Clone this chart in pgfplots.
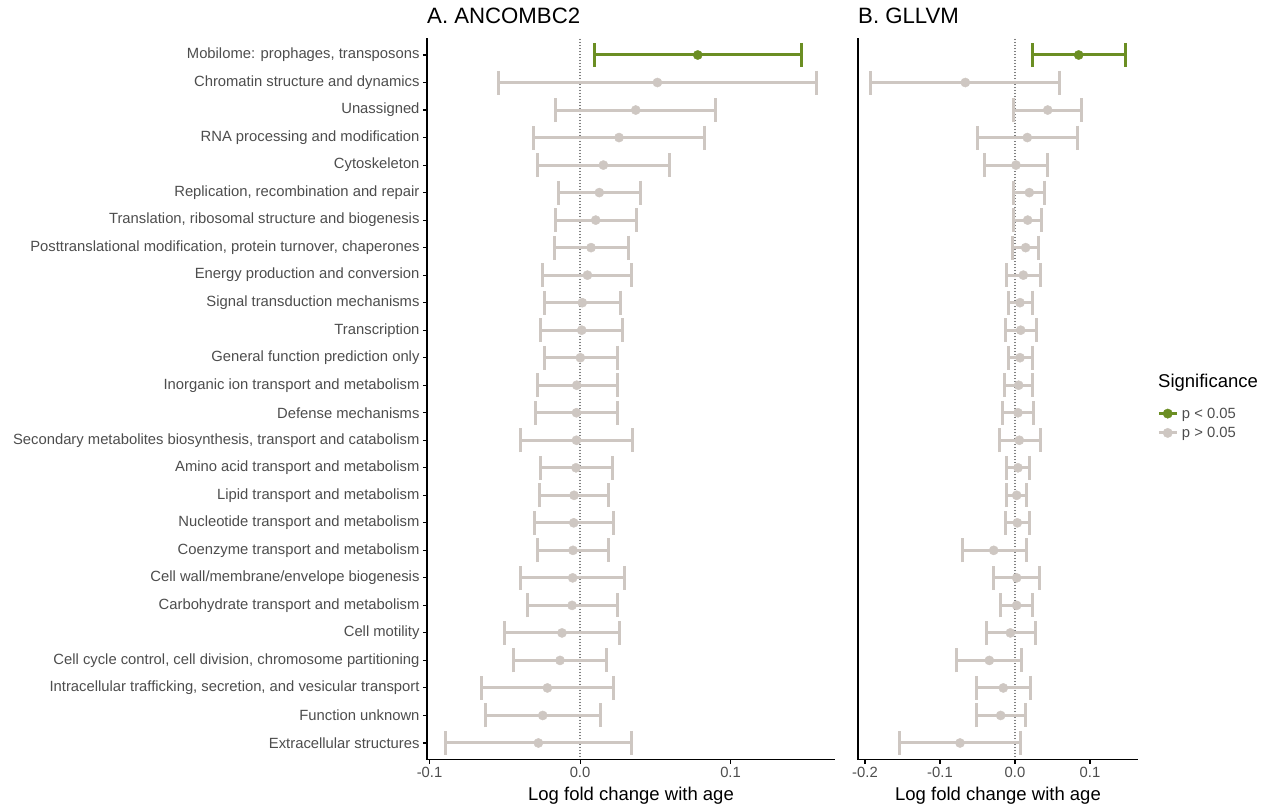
\documentclass[border=0pt]{standalone}
\usepackage{fontspec}
\setmainfont{Liberation Sans}
\usepackage{pgfplots}
\usepackage{pgfplotstable}
\pgfplotsset{compat=1.18}
\definecolor{sig}{RGB}{107,142,35}
\definecolor{ns}{RGB}{206,199,194}
\definecolor{txt}{RGB}{77,77,77}
\newcommand{\fs}[1]{\fontsize{#1bp}{#1bp}\selectfont}

\pgfplotstableread{
y x lo hi
26 0.0782 0.0093 0.1473
}\Asig
\pgfplotstableread{
y x lo hi
25 0.0514 -0.0543 0.1573
24 0.0370 -0.0162 0.0897
23 0.0259 -0.0310 0.0826
22 0.0155 -0.0284 0.0594
21 0.0128 -0.0144 0.0403
20 0.0104 -0.0166 0.0374
19 0.0073 -0.0173 0.0321
18 0.0049 -0.0248 0.0341
17 0.0015 -0.0237 0.0266
16 0.0011 -0.0261 0.0279
15 0.0002 -0.0237 0.0246
14 -0.0022 -0.0286 0.0250
13 -0.0024 -0.0297 0.0248
12 -0.0024 -0.0399 0.0346
11 -0.0027 -0.0266 0.0215
10 -0.0040 -0.0268 0.0188
9 -0.0042 -0.0304 0.0221
8 -0.0047 -0.0284 0.0191
7 -0.0049 -0.0394 0.0295
6 -0.0053 -0.0350 0.0246
5 -0.0120 -0.0505 0.0264
4 -0.0133 -0.0443 0.0177
3 -0.0217 -0.0653 0.0219
2 -0.0248 -0.0631 0.0133
1 -0.0277 -0.0892 0.0341
}\Ans
\pgfplotstableread{
y x lo hi
26 0.0849 0.0231 0.1476
}\Bsig
\pgfplotstableread{
y x lo hi
25 -0.0662 -0.1920 0.0596
24 0.0436 -0.0022 0.0893
23 0.0164 -0.0502 0.0827
22 0.0013 -0.0413 0.0436
21 0.0191 -0.0018 0.0391
20 0.0169 -0.0018 0.0351
19 0.0142 -0.0027 0.0307
18 0.0111 -0.0116 0.0342
17 0.0067 -0.0093 0.0227
16 0.0076 -0.0133 0.0284
15 0.0067 -0.0093 0.0227
14 0.0049 -0.0138 0.0227
13 0.0040 -0.0173 0.0253
12 0.0058 -0.0213 0.0342
11 0.0040 -0.0111 0.0191
10 0.0022 -0.0107 0.0151
9 0.0031 -0.0129 0.0191
8 -0.0284 -0.0698 0.0151
7 0.0022 -0.0289 0.0324
6 0.0022 -0.0200 0.0227
5 -0.0062 -0.0378 0.0271
4 -0.0342 -0.0778 0.0089
3 -0.0156 -0.0511 0.0200
2 -0.0191 -0.0511 0.0138
1 -0.0733 -0.1542 0.0067
}\Bns

\pgfplotsset{
  forest/.style={
    scale only axis, height=721bp, ymin=0.4, ymax=26.6,
    axis lines*=left, axis line style={-, line width=1.1bp, black},
    tick style={black, line width=1.1bp}, major tick length=4bp, tick align=outside,
    ticklabel style={font=\fs{14.8}, text=txt},
    title style={at={(0,1)}, anchor=base west, yshift=9.2bp, font=\fs{22.2}, inner sep=0pt},
    xlabel style={at={(0.5,0)}, anchor=base, yshift=-40.5bp, font=\fs{18.5}, inner sep=0pt},
    clip=false,
  },
  zeroline/.style={black, line width=1.3bp, line cap=round, dash pattern=on 0bp off 3bp},
  ebar/.style={only marks, mark=*, mark size=4.6bp, color=#1, mark options={fill=#1, draw=#1},
    error bars/x dir=both, error bars/x explicit,
    error bars/error bar style={line width=3bp, color=#1},
    error bars/error mark options={line width=3bp, mark size=12bp, color=#1, rotate=90}},
}

\begin{document}
\begin{tikzpicture}
\path[use as bounding box] (0,0) rectangle (1266bp,807bp);
\begin{axis}[forest, at={(427bp,47.5bp)}, anchor=south west, width=408bp,
  xmin=-0.1017, xmax=0.1694, xtick={-0.1,0,0.1}, xticklabels={-0.1,0.0,0.1},
  ytick={1,...,26},
  yticklabels={Extracellular structures, Function unknown, {Intracellular trafficking, secretion, and vesicular transport}, {Cell cycle control, cell division, chromosome partitioning}, Cell motility, Carbohydrate transport and metabolism, Cell wall/membrane/envelope biogenesis, Coenzyme transport and metabolism, Nucleotide transport and metabolism, Lipid transport and metabolism, Amino acid transport and metabolism, {Secondary metabolites biosynthesis, transport and catabolism}, Defense mechanisms, Inorganic ion transport and metabolism, General function prediction only, Transcription, Signal transduction mechanisms, Energy production and conversion, {Posttranslational modification, protein turnover, chaperones}, {Translation, ribosomal structure and biogenesis}, {Replication, recombination and repair}, Cytoskeleton, RNA processing and modification, Unassigned, Chromatin structure and dynamics, {Mobilome: prophages, transposons}},
  title={A. ANCOMBC2}, xlabel={Log fold change with age}]
\addplot[zeroline] coordinates {(0,0.4) (0,26.6)};
\addplot[ebar=ns] table[x=x, y=y, x error plus expr=\thisrow{hi}-\thisrow{x}, x error minus expr=\thisrow{x}-\thisrow{lo}] {\Ans};
\addplot[ebar=sig] table[x=x, y=y, x error plus expr=\thisrow{hi}-\thisrow{x}, x error minus expr=\thisrow{x}-\thisrow{lo}] {\Asig};
\end{axis}
\begin{axis}[forest, at={(858bp,47.5bp)}, anchor=south west, width=280bp,
  xmin=-0.2093, xmax=0.164, xtick={-0.2,-0.1,0,0.1}, xticklabels={-0.2,-0.1,0.0,0.1},
  ytick=\empty,
  title={B. GLLVM}, xlabel={Log fold change with age},
  legend style={at={(1.068,0.491)}, anchor=north west, draw=none, fill=none, font=\fs{14.8}, text=txt, row sep=3.5bp, inner sep=0pt},
  legend cell align=left,
  legend image code/.code={\draw[#1, line width=3bp] (0bp,0bp) -- (18bp,0bp); \fill[#1] (9bp,0bp) circle (4.7bp); \path (21bp,0bp);}]
\addlegendimage{sig}
\addlegendentry{p < 0.05}
\addlegendimage{ns}
\addlegendentry{p > 0.05}
\addplot[forget plot, zeroline] coordinates {(0,0.4) (0,26.6)};
\addplot[forget plot, ebar=ns] table[x=x, y=y, x error plus expr=\thisrow{hi}-\thisrow{x}, x error minus expr=\thisrow{x}-\thisrow{lo}] {\Bns};
\addplot[forget plot, ebar=sig] table[x=x, y=y, x error plus expr=\thisrow{hi}-\thisrow{x}, x error minus expr=\thisrow{x}-\thisrow{lo}] {\Bsig};
\end{axis}
\node[anchor=base west, font=\fs{18.5}, inner sep=0pt] at (1158bp,419bp) {Significance};
\end{tikzpicture}
\end{document}
